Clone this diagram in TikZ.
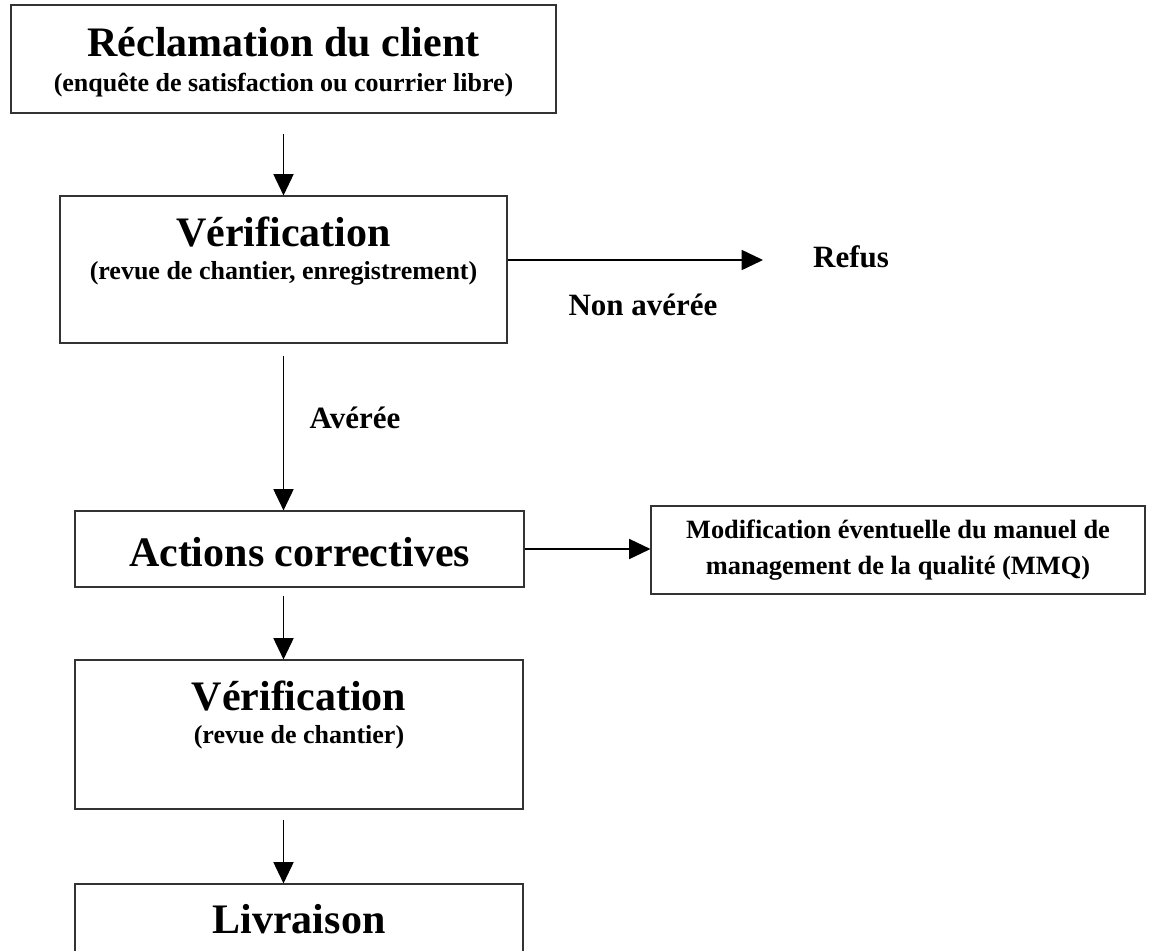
\documentclass[tikz,border=0pt]{standalone}
\usepackage{fontspec}
\setmainfont{Liberation Serif}
\usetikzlibrary{arrows.meta,fit}

\tikzset{
  box/.style={draw=black!80, line width=0.8pt, inner sep=0pt},
  titletext/.style={font=\fontsize{31.5}{36}\selectfont\bfseries, inner sep=0pt},
  subtext/.style={font=\fontsize{19.5}{24}\selectfont\bfseries, inner sep=0pt},
  labeltext/.style={font=\fontsize{23.25}{28}\selectfont\bfseries, inner sep=0pt},
  mmqtext/.style={font=\fontsize{19.8}{27.5}\selectfont\bfseries, inner sep=0pt, align=center},
  arr/.style={-{Triangle[length=16pt,width=15pt]}, line width=1.3pt}
}

\begin{document}
\begin{tikzpicture}[x=0.75pt,y=0.75pt,yscale=-1,xscale=1]
\useasboundingbox (0,0) rectangle (1155,950);
\clip (0,0) rectangle (1155,950);

%Spine of the vertical arrows
\coordinate (spine) at (283.5,0);
\coordinate (refustip) at (763,260);

%Boxes
\node[box, fit={(11,5) (556,113)}] (reclam) {};
\node[box, fit={(60,196) (507,343)}] (verif) {};
\node[box, fit={(75,511) (524,587)}] (actions) {};
\node[box, fit={(651,506) (1145,594)}] (mmq) {};
\node[box, fit={(75,660) (523,809)}] (verifbis) {};
\node[box, fit={(75,884) (523,1000)}] (livraison) {};

% Text Nodes
\node[titletext, anchor=base] (reclamtitle) at (283.5,56) {Réclamation du client};
\node[subtext, anchor=base] (reclamsub) at (283.5,91) {(enquête de satisfaction ou courrier libre)};
\node[titletext, anchor=base] (veriftitle) at (283.5,246) {Vérification};
\node[subtext, anchor=base] (verifsub) at (283.5,279) {(revue de chantier, enregistrement)};
\node[titletext, anchor=base] (actionstitle) at (299.5,566) {Actions correctives};
\node[mmqtext] (mmqlabel) at (mmq.center) {Modification éventuelle du manuel de\\management de la qualité (MMQ)};
\node[titletext, anchor=base] (verifbistitle) at (299,710) {Vérification};
\node[subtext, anchor=base] (verifbissub) at (299,743) {(revue de chantier)};
\node[titletext, anchor=base] (livraisontitle) at (299,933) {Livraison};

% Labels
\node[labeltext, anchor=base] (refus) at (851,267) {Refus};
\node[labeltext, anchor=base] (nonaveree) at (643,315) {Non avérée};
\node[labeltext, anchor=base] (averee) at (355,428) {Avérée};

%Arrows
\draw[arr, shorten <=15pt] (reclam.south -| spine) -- (verif.north -| spine);
\draw[arr] (verif.east |- refustip) -- (refustip);
\draw[arr, shorten <=9pt] (verif.south -| spine) -- (actions.north -| spine);
\draw[arr] (actions.east) -- (actions.east -| mmq.west);
\draw[arr, shorten <=6pt] (actions.south -| spine) -- (verifbis.north -| spine);
\draw[arr, shorten <=7.5pt] (verifbis.south -| spine) -- (livraison.north -| spine);

\end{tikzpicture}
\end{document}
